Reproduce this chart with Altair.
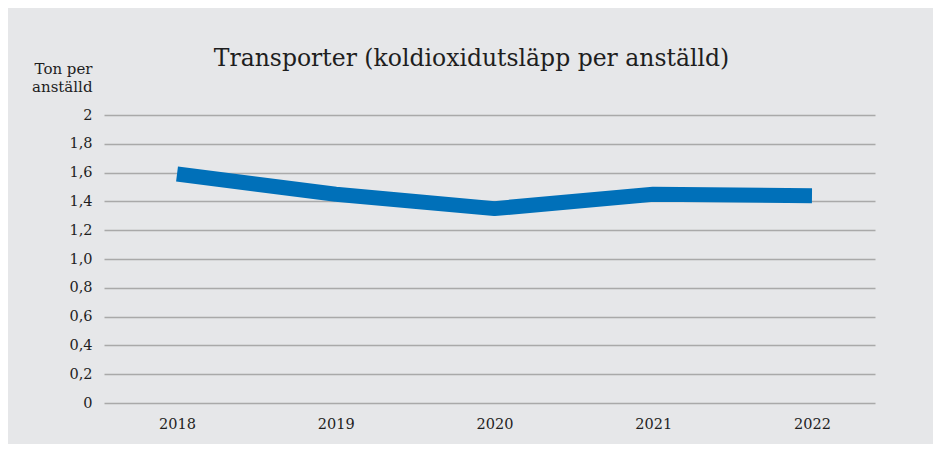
import altair as alt
import pandas as pd

years = [2018, 2019, 2020, 2021, 2022]
values = [1.59, 1.45, 1.35, 1.45, 1.44]
y_ticks = [0, 0.2, 0.4, 0.6, 0.8, 1.0, 1.2, 1.4, 1.6, 1.8, 2.0]
title_text = "Transporter (koldioxidutsläpp per anställd)"
y_title = ["Ton per", "anställd"]

df = pd.DataFrame({"year": years, "value": values})

FONT = "DejaVu Serif"
BG = "#e6e7e9"
TXT = "#1e1e1e"

chart = alt.Chart(df).mark_line(
    color="#0070b9", strokeWidth=15, strokeCap="butt", strokeJoin="round"
).encode(
    x=alt.X(
        "year:Q",
        scale=alt.Scale(domain=[2017.54, 2022.397], nice=False, zero=False),
        axis=alt.Axis(
            values=years, format="d", title=None, grid=False, ticks=False,
            domain=False, labelPadding=14, labelFontSize=14.5, labelFont=FONT,
            labelColor=TXT,
        ),
    ),
    y=alt.Y(
        "value:Q",
        scale=alt.Scale(domain=[0, 2], nice=False),
        axis=alt.Axis(
            values=y_ticks, title=y_title, titleAngle=0, titleAlign="right",
            titleBaseline="alphabetic", titleX=-12, titleY=-42,
            titleFont=FONT, titleFontSize=15, titleFontWeight="normal",
            titleColor=TXT, titleLineHeight=18,
            labelExpr="datum.value == 0 ? '0' : datum.value == 2 ? '2' : replace(format(datum.value, '.1f'), '.', ',')",
            labelFont=FONT, labelFontSize=14.5, labelColor=TXT,
            labelPadding=12, ticks=False, domain=False,
            grid=True, gridColor="#a9a9a9", gridWidth=1.5,
        ),
    ),
).properties(
    width=771,
    height=288,
    background=BG,
    padding={"left": 96, "top": 107, "right": 58, "bottom": 41},
    autosize=alt.AutoSizeParams(type="none"),
    title=alt.TitleParams(
        text=title_text, font=FONT, fontSize=23.5, fontWeight="normal",
        color=TXT, anchor="middle", frame="group", dx=-18, dy=49, offset=40,
    ),
).configure_view(stroke=None)

chart.save("out.html", embed_options={"renderer": "svg", "actions": False})
